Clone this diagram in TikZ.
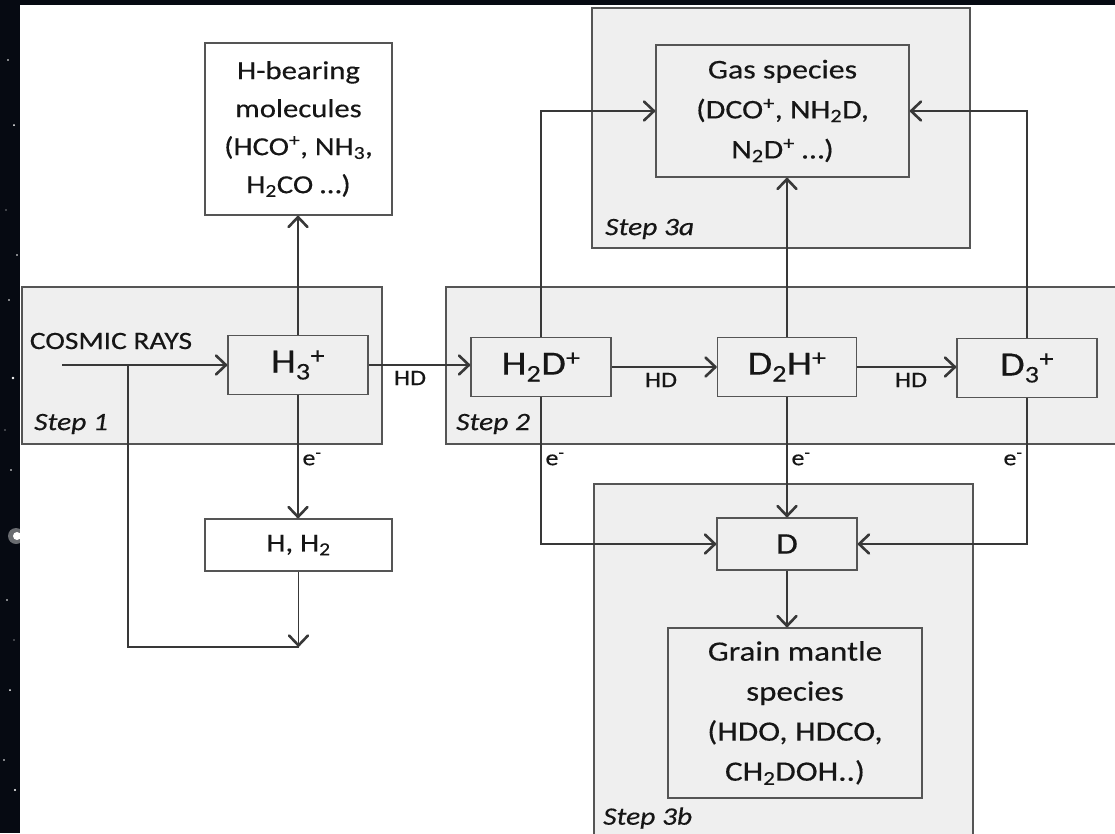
\documentclass[tikz,border=0pt]{standalone}
\usepackage{fontspec}
\setmainfont{Carlito}[FakeStretch=1.18,FakeBold=0.35]
\usetikzlibrary{arrows.meta}
\definecolor{bgdark}{HTML}{060A12}
\definecolor{stepfill}{HTML}{EFEFEF}
\definecolor{edge}{HTML}{555555}
\definecolor{ink}{HTML}{161616}
\definecolor{wire}{HTML}{383838}
\begin{document}
\begin{tikzpicture}[x=1pt,y=-1pt,
  stepbg/.style={draw=edge, line width=1.5pt, fill=stepfill, inner sep=0pt},
  box/.style={draw=edge, line width=1.5pt, fill=white, text=ink, align=center, inner sep=0pt, font=\fontsize{26}{38}\selectfont},
  graybox/.style={box, fill=stepfill},
  species/.style={graybox, font=\fontsize{34}{40}\selectfont},
  lbl/.style={text=ink, font=\fontsize{22}{24}\selectfont, inner sep=0pt},
  steplbl/.style={text=ink, font=\fontsize{25}{30}\selectfont\itshape, anchor=west, inner sep=0pt},
  conn/.style={draw=wire, line width=1.8pt},
  arr/.style={conn, -{Straight Barb[length=10pt,width=19pt,line width=2.6pt,round]}}
]
\useasboundingbox (0,0) rectangle (1115,833);
\clip (0,0) rectangle (1115,833);
% background
\fill[bgdark] (0,0) rectangle (1115,833);
\fill[white] (20,5) rectangle (1115,833);
\foreach \sx/\sy/\sr in {8/60/0.8, 14/125/1.0, 6/210/0.7, 17/255/0.8, 9/300/0.8, 13/378/1.4, 5/430/0.7, 11/470/0.8, 7/600/0.8, 14/640/0.7, 10/690/1.0, 4/760/0.8, 15/790/1.2}
  \fill[white] (\sx,\sy) circle (\sr);
\fill[white] (17,536) circle (4);
\fill[white, opacity=0.4] (16,536) circle (8);

% group boxes
\node[stepbg, minimum width=360pt, minimum height=157pt] (s1) at (202,365.5) {};
\node[stepbg, minimum width=690pt, minimum height=157pt] (s2) at (791,365.5) {};
\node[stepbg, minimum width=378pt, minimum height=240pt] (s3a) at (781,128) {};
\node[stepbg, minimum width=379pt, minimum height=380pt] (s3b) at (783.5,674) {};

\node[steplbl] (l1) at (34,424) {Step 1};
\node[steplbl] (l2) at (456,424) {Step 2};
\node[steplbl] (l3a) at (605,229) {Step 3a};
\node[steplbl] (l3b) at (603,818) {Step 3b};

% nodes
\node[box, minimum width=187pt, minimum height=172pt] (hbear) at (298.5,129)
  {H-bearing\\molecules\\(HCO\textsuperscript{+}, NH\textsubscript{3},\\H\textsubscript{2}CO …)};
\node[species, minimum width=140pt, minimum height=59pt] (h3) at (298,365) {H\textsubscript{3}\textsuperscript{+}};
\node[box, minimum width=187pt, minimum height=52pt] (hh2) at (298.5,545) {H, H\textsubscript{2}};
\node[text=ink, inner sep=0pt, font=\fontsize{25}{30}\selectfont] (cr) at (111,341) {COSMIC RAYS};

\node[species, minimum width=140pt, minimum height=59pt] (h2d) at (541,367) {H\textsubscript{2}D\textsuperscript{+}};
\node[species, minimum width=139pt, minimum height=59pt] (d2h) at (787,367) {D\textsubscript{2}H\textsuperscript{+}};
\node[species, minimum width=140pt, minimum height=59pt] (d3) at (1027,368) {D\textsubscript{3}\textsuperscript{+}};

\node[graybox, minimum width=253pt, minimum height=132pt, font=\fontsize{27}{40}\selectfont] (gas) at (782.5,111)
  {Gas species\\(DCO\textsuperscript{+}, NH\textsubscript{2}D,\\N\textsubscript{2}D\textsuperscript{+} …)};
\node[graybox, minimum width=140pt, minimum height=52pt, font=\fontsize{30}{36}\selectfont] (dd) at (787,544) {D};
\node[graybox, minimum width=254pt, minimum height=170pt, font=\fontsize{28}{40}\selectfont] (grain) at (795,713)
  {Grain mantle\\species\\(HDO, HDCO,\\CH\textsubscript{2}DOH..)};

% connectors
\coordinate (crs) at (62,365);
\coordinate (crb) at (128,365);
\draw[arr] (crs) -- (crs -| h3.west);
\draw[arr] (hh2.south) -- ++(0,75) coordinate (join);
\draw[conn] (crb) -- (crb |- join) -- (join);
\draw[arr] (h3.north) -- (h3.north |- hbear.south);
\draw[arr] (h3.south) -- (h3.south |- hh2.north);
\node[lbl] (e1) at (312,459) {e\textsuperscript{-}};

\draw[arr] (h3.east) -- (h3.east -| h2d.west);
\node[lbl] (hd1) at (410,378) {HD};
\draw[arr] (h2d.east) -- (d2h.west);
\node[lbl] (hd2) at (661,380) {HD};
\draw[arr] (d2h.east) -- (d2h.east -| d3.west);
\node[lbl] (hd3) at (911,380) {HD};

\draw[arr] (h2d.north) -- (h2d.north |- gas.west) -- (gas.west);
\draw[arr] (d2h.north) -- (d2h.north |- gas.south);
\draw[arr] (d3.north) -- (d3.north |- gas.east) -- (gas.east);

\draw[arr] (h2d.south) -- (h2d.south |- dd.west) -- (dd.west);
\draw[arr] (d2h.south) -- (d2h.south |- dd.north);
\draw[arr] (d3.south) -- (d3.south |- dd.east) -- (dd.east);
\draw[arr] (dd.south) -- (dd.south |- grain.north);
\node[lbl] (e2) at (555,459) {e\textsuperscript{-}};
\node[lbl] (e3) at (801,459) {e\textsuperscript{-}};
\node[lbl] (e4) at (1013,459) {e\textsuperscript{-}};
\end{tikzpicture}
\end{document}
